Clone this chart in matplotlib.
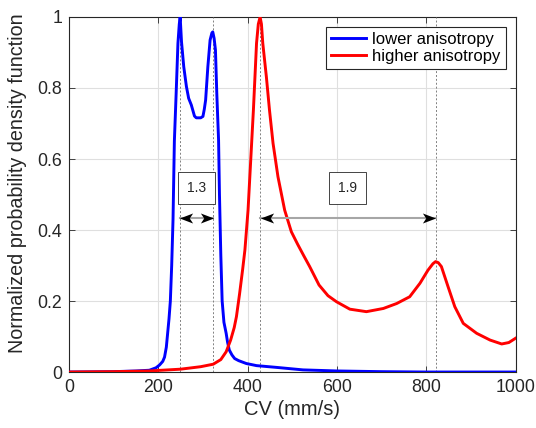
import matplotlib
matplotlib.use("Agg")
import matplotlib.pyplot as plt
from matplotlib.path import Path

plt.rcParams['font.family'] = ['Liberation Sans', 'DejaVu Sans']

# ---- data ----
cv_low = [0, 100, 150, 180, 195, 203, 210, 214, 218, 221, 224, 227, 230, 233, 236, 240, 244, 247, 249,
          252, 257, 263, 268, 274, 281, 285, 295, 300, 303, 306, 311, 316, 320, 322,
          325, 328, 331, 335, 337, 340, 343, 347, 352, 355, 359, 365, 371, 380, 397, 420, 465,
          524, 600, 700, 800, 1000]
pdf_low = [0, 0.001, 0.003, 0.005, 0.012, 0.02, 0.03, 0.042, 0.07, 0.11, 0.15, 0.2, 0.3, 0.43, 0.65, 0.785,
           0.926, 0.98, 1.0,
           0.93, 0.86, 0.804, 0.771, 0.752, 0.721, 0.716, 0.716, 0.72, 0.74, 0.766, 0.86, 0.935, 0.955, 0.958,
           0.94, 0.907, 0.785, 0.653, 0.5, 0.33, 0.2, 0.14, 0.109, 0.085, 0.062, 0.048, 0.038, 0.032,
           0.024, 0.018, 0.013, 0.006, 0.003, 0.001, 0.0, 0.0]

cv_high = [0, 100, 180, 250, 295, 323, 340, 352, 362, 370, 375, 382, 389, 394, 401, 407, 413, 420, 424,
           428, 431, 434, 442, 449, 457, 468, 483, 498, 512, 526, 539, 560, 580, 599, 629, 666, 704,
           734, 763, 786, 804, 815, 821, 827, 834, 849, 864, 883, 913, 943, 969, 985, 1000]
pdf_high = [0, 0.001, 0.003, 0.008, 0.015, 0.022, 0.035, 0.057, 0.09, 0.125, 0.156, 0.22, 0.29, 0.344,
            0.456, 0.597, 0.738, 0.926, 0.98,
            1.0, 0.98, 0.926, 0.832, 0.738, 0.644, 0.55, 0.456, 0.395, 0.36, 0.327, 0.297, 0.245, 0.215,
            0.198, 0.177, 0.17, 0.179,
            0.193, 0.212, 0.25, 0.287, 0.305, 0.311, 0.308, 0.297, 0.24, 0.184, 0.137, 0.109, 0.09, 0.079,
            0.083, 0.095]

peak_lines = [248.5, 323, 428, 821]
ratio_labels = ['1.3', '1.9']
ratio_spans = [(248.5, 323), (428, 821)]
label_low = 'lower anisotropy'
label_high = 'higher anisotropy'

# ---- figure ----
fig = plt.figure(figsize=(5.36, 4.28), dpi=100)
ax = fig.add_axes([0.1287, 0.1308, 0.8331, 0.8295])

edge = '#262626'
ax.plot(cv_low, pdf_low, color=(0, 0, 1), lw=2.1, label=label_low, zorder=4)
ax.plot(cv_high, pdf_high, color=(1, 0, 0), lw=2.1, label=label_high, zorder=4)

for x in peak_lines:
    ax.axvline(x, color='#808080', lw=0.7, ls=(0, (2, 2)), zorder=3)

# arrow head marker (MATLAB vback2 style), pointing right
head_r = Path([(0.5, 0), (-0.5, 0.38), (-0.25, 0), (-0.5, -0.38), (0.5, 0)],
              [Path.MOVETO, Path.LINETO, Path.LINETO, Path.LINETO, Path.CLOSEPOLY])
head_l = Path([(-0.5, 0), (0.5, 0.38), (0.25, 0), (0.5, -0.38), (-0.5, 0)],
              [Path.MOVETO, Path.LINETO, Path.LINETO, Path.LINETO, Path.CLOSEPOLY])

y_arrow = 0.433
y_box = 0.518
for (x0, x1), lab in zip(ratio_spans, ratio_labels):
    ax.plot([x0, x1], [y_arrow, y_arrow], color='#a6a6a6', lw=1.5, zorder=5)
    ax.plot([x1 - 14.5], [y_arrow], marker=head_r, ms=9.5, color='k', mew=0, zorder=6)
    ax.plot([x0 + 14.5], [y_arrow], marker=head_l, ms=9.5, color='k', mew=0, zorder=6)
    ax.text((x0 + x1) / 2, y_box, lab, ha='center', va='center',
            fontsize=10, color=edge, zorder=7,
            bbox=dict(boxstyle='square,pad=0.65', fc='white', ec=edge, lw=0.6))

ax.set_xlim(0, 1000)
ax.set_ylim(0, 1)
ax.set_xticks([0, 200, 400, 600, 800, 1000])
ax.set_yticks([0, 0.2, 0.4, 0.6, 0.8, 1])
ax.set_yticklabels(['0', '0.2', '0.4', '0.6', '0.8', '1'])
ax.grid(True, color='#dfdfdf', lw=0.8, zorder=0)
ax.set_axisbelow(True)
ax.tick_params(direction='in', length=4, width=0.6, colors=edge, labelsize=12.8,
               top=True, right=True, pad=5)
for s in ax.spines.values():
    s.set_color(edge)
    s.set_linewidth(0.8)

ax.set_xlabel('CV (mm/s)', fontsize=14.5, color=edge, labelpad=3)
ax.set_ylabel('Normalized probability density function', fontsize=14.2, color=edge)
ax.yaxis.set_label_coords(-0.094, 0.531)

leg = ax.legend(loc='upper right', fontsize=12, frameon=True, fancybox=False, framealpha=1,
                edgecolor=edge, handlelength=2.1, handletextpad=0.4, borderpad=0.28,
                labelspacing=0.15, borderaxespad=0.6)
leg.get_frame().set_linewidth(0.8)
for t in leg.get_texts():
    t.set_color('black')

fig.savefig('out.png', dpi=100)
